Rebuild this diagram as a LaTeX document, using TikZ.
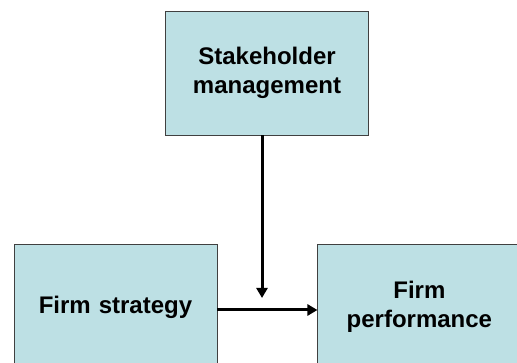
\documentclass[tikz,border=0pt]{standalone}
\usepackage{fontspec}
\setmainfont{Liberation Sans}
\usetikzlibrary{positioning,arrows.meta,calc}
\definecolor{boxblue}{RGB}{189,224,228}
\definecolor{boxline}{RGB}{64,64,64}

\tikzset{
   factor/.style={draw=boxline, line width=0.9pt, fill=boxblue,
      minimum width=203pt, minimum height=125pt, inner sep=0pt,
      align=center, text width=190pt,
      font=\fontsize{24pt}{29pt}\selectfont\bfseries},
   link/.style={line width=3pt, -{Triangle[length=10pt,width=11pt]}}
}

\begin{document}
\begin{tikzpicture}
   \useasboundingbox (0,0) rectangle (517pt,363pt);

   % lower row
   \node[factor]                      (strat) at (115.5pt,56pt) {Firm strategy};
   \node[factor, right=100pt of strat] (perf)                   {Firm\\performance};

   % moderator
   \node[factor, minimum height=124pt] (stake) at (267pt,290pt) {Stakeholder\\management};

   % where the moderator meets the main link
   \coordinate (join) at (262pt,65pt);

   \draw[link] ([yshift=-3pt]strat.east) -- ([yshift=-3pt]perf.west);
   \draw[link] (stake.south -| join) -- (join);
\end{tikzpicture}
\end{document}
